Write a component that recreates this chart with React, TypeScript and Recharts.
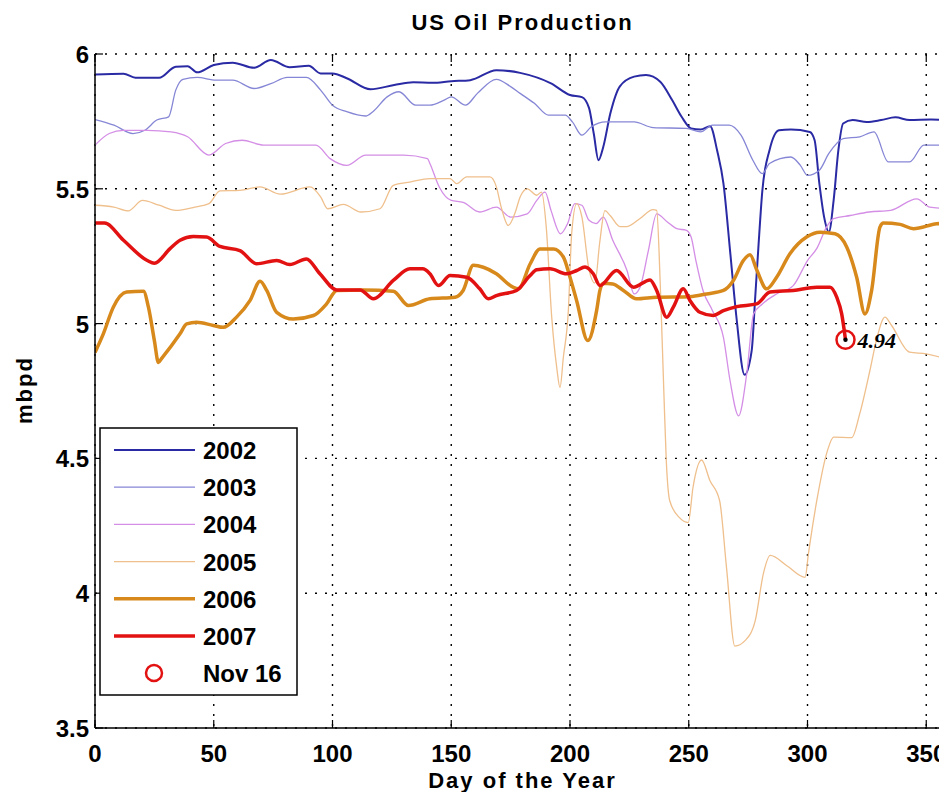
import React from 'react';
import { ComposedChart, Line, XAxis, YAxis, CartesianGrid, ReferenceDot } from 'recharts';

// days and mbpd values, one pair of arrays per year
const days2002 = [0, 12, 17, 27, 34, 39, 43, 50, 58, 67, 74, 82, 90, 95, 100, 106, 116, 126, 134, 142, 150, 158, 169, 179, 192, 200, 205, 208, 210, 212, 214, 217, 221, 227, 232, 238, 243, 247, 251, 255, 259, 262, 264.6, 267.4, 270, 273.5, 276.5, 278, 279.3, 281, 284, 288, 293, 301, 303, 305, 307, 309, 311, 313, 315, 319, 325, 331, 337, 343, 352, 360];
const vals2002 = [5.924, 5.927, 5.912, 5.912, 5.953, 5.955, 5.932, 5.959, 5.968, 5.949, 5.978, 5.951, 5.956, 5.928, 5.928, 5.91, 5.869, 5.885, 5.895, 5.893, 5.899, 5.903, 5.94, 5.93, 5.891, 5.848, 5.84, 5.8, 5.705, 5.606, 5.655, 5.78, 5.88, 5.916, 5.922, 5.897, 5.829, 5.767, 5.724, 5.72, 5.732, 5.64, 5.52, 5.27, 5.03, 4.81, 4.9, 5.1, 5.28, 5.494, 5.643, 5.717, 5.72, 5.711, 5.68, 5.519, 5.395, 5.34, 5.457, 5.643, 5.742, 5.755, 5.748, 5.755, 5.765, 5.755, 5.757, 5.752];

const days2003 = [0, 8, 16, 21, 26, 31, 34, 37, 43, 51, 58, 67, 74, 81, 89, 95, 100, 106, 114, 117, 123, 128, 135, 141, 147, 150, 156, 161, 169, 175, 179, 185, 191, 198, 201, 205, 209, 215, 227, 235, 249, 255, 260, 267, 272, 277, 281, 284, 293, 297, 300, 305, 309, 315, 322, 328, 334, 343, 349, 360];
const vals2003 = [5.757, 5.736, 5.705, 5.717, 5.755, 5.767, 5.866, 5.906, 5.913, 5.903, 5.903, 5.872, 5.89, 5.913, 5.913, 5.866, 5.81, 5.786, 5.77, 5.786, 5.841, 5.86, 5.81, 5.81, 5.829, 5.841, 5.81, 5.854, 5.906, 5.879, 5.854, 5.817, 5.773, 5.773, 5.748, 5.699, 5.73, 5.748, 5.748, 5.727, 5.724, 5.711, 5.736, 5.736, 5.699, 5.606, 5.556, 5.594, 5.618, 5.587, 5.55, 5.569, 5.631, 5.686, 5.693, 5.711, 5.6, 5.6, 5.662, 5.662];

const days2004 = [0, 6, 12, 22, 32, 39, 48, 55, 62, 71, 81, 93, 99, 106, 114, 130, 140, 141, 145, 150, 155, 162, 169, 175, 182, 186, 189.5, 192, 196, 199, 202, 205, 208, 211, 214, 218, 224, 227, 229.5, 233, 236.5, 241, 245, 249, 251, 253, 256, 260, 264.6, 267.4, 271, 274.4, 277.3, 281, 287, 294, 300, 304, 308, 311, 318, 326, 335, 346, 351.5, 360];
const vals2004 = [5.662, 5.705, 5.717, 5.717, 5.711, 5.693, 5.625, 5.668, 5.68, 5.662, 5.662, 5.662, 5.612, 5.587, 5.625, 5.625, 5.612, 5.594, 5.506, 5.457, 5.45, 5.414, 5.432, 5.395, 5.407, 5.457, 5.488, 5.42, 5.333, 5.371, 5.445, 5.439, 5.383, 5.371, 5.395, 5.309, 5.197, 5.11, 5.135, 5.271, 5.407, 5.377, 5.352, 5.346, 5.321, 5.234, 5.123, 5.048, 4.949, 4.788, 4.658, 4.813, 5.036, 5.073, 5.11, 5.141, 5.234, 5.28, 5.358, 5.389, 5.401, 5.414, 5.42, 5.463, 5.432, 5.426];

const days2005 = [0, 8, 14, 20, 27, 34, 42, 48, 52.6, 61, 69.5, 78, 90.5, 95, 98, 104.6, 112, 120, 125.6, 132.6, 141, 149.5, 152.3, 156.5, 166.3, 169, 171, 174, 177, 179, 182, 186, 188, 190, 192.3, 194.4, 195.8, 197.2, 199.3, 200.7, 202.8, 205, 208, 210.5, 212.5, 214.7, 217, 221, 224, 229.5, 235, 236.5, 238, 239.5, 240.5, 242, 246, 249.8, 251.8, 255.4, 258.9, 263, 265.9, 269.4, 273.7, 278, 281.4, 284.3, 291.3, 299, 300.4, 303.9, 308.4, 311, 318.6, 322, 326.3, 329, 332.6, 335.4, 343, 350, 360];
const vals2005 = [5.439, 5.432, 5.418, 5.457, 5.439, 5.42, 5.432, 5.445, 5.492, 5.494, 5.507, 5.48, 5.507, 5.47, 5.426, 5.442, 5.414, 5.426, 5.513, 5.525, 5.538, 5.538, 5.519, 5.544, 5.544, 5.507, 5.433, 5.364, 5.414, 5.47, 5.5, 5.476, 5.488, 5.358, 5.024, 4.838, 4.763, 4.875, 5.048, 5.333, 5.445, 5.396, 5.2, 5.15, 5.3, 5.419, 5.4, 5.36, 5.36, 5.39, 5.423, 5.42, 5.147, 4.75, 4.5, 4.343, 4.281, 4.262, 4.393, 4.494, 4.418, 4.343, 4.095, 3.804, 3.824, 3.898, 4.072, 4.14, 4.102, 4.059, 4.147, 4.343, 4.529, 4.579, 4.577, 4.666, 4.827, 4.938, 5.024, 4.993, 4.894, 4.888, 4.864];

const days2006 = [0, 3.5, 7.7, 13.3, 20.4, 22.5, 25, 26.7, 28, 35.8, 38.6, 42.8, 49.8, 54, 59.6, 65.3, 69.5, 72.3, 76.5, 83.5, 92, 97.5, 101.8, 113, 125.6, 132, 141, 151.6, 155, 159.3, 163.5, 169, 176, 178.3, 183.2, 187.4, 193, 197.2, 200, 202.8, 207.5, 211.2, 212.6, 214, 218, 222.5, 228, 236.5, 250.5, 257.5, 264.6, 268.8, 273, 275.8, 278.6, 282.8, 287, 292.6, 299.6, 305.3, 311.6, 316.5, 320.7, 324.2, 327, 330.5, 332, 339, 344.6, 354.4, 360];
const vals2006 = [4.893, 4.962, 5.061, 5.117, 5.12, 5.061, 4.937, 4.856, 4.87, 4.962, 4.999, 5.005, 4.993, 4.986, 5.024, 5.086, 5.157, 5.123, 5.042, 5.017, 5.03, 5.073, 5.123, 5.125, 5.12, 5.067, 5.092, 5.098, 5.123, 5.216, 5.209, 5.185, 5.135, 5.129, 5.221, 5.277, 5.277, 5.247, 5.172, 5.085, 4.937, 5.048, 5.123, 5.15, 5.147, 5.123, 5.092, 5.098, 5.1, 5.11, 5.123, 5.16, 5.234, 5.255, 5.2, 5.129, 5.172, 5.259, 5.321, 5.339, 5.333, 5.284, 5.172, 5.036, 5.123, 5.358, 5.373, 5.368, 5.352, 5.37, 5.373];

const days2007 = [0, 4, 12, 22, 25, 31.6, 35.8, 41.4, 47, 52.6, 61, 68, 76.5, 82, 89, 94.7, 101.8, 111.6, 117.2, 125.6, 132.6, 138, 141, 144.6, 149.5, 156.5, 162, 165.6, 169, 177.5, 183.2, 186, 191.6, 198.6, 202.8, 206.3, 209.8, 212.6, 219.6, 226.7, 233.7, 236.5, 240.7, 243.5, 247.7, 250.5, 254.7, 260.3, 264.6, 270.2, 278.6, 284.2, 294, 303.9, 309.5, 312.3, 314.4, 316];
const vals2007 = [5.373, 5.373, 5.309, 5.234, 5.224, 5.278, 5.309, 5.323, 5.321, 5.286, 5.271, 5.222, 5.234, 5.219, 5.24, 5.185, 5.125, 5.125, 5.092, 5.16, 5.203, 5.203, 5.185, 5.141, 5.178, 5.172, 5.129, 5.092, 5.104, 5.123, 5.178, 5.2, 5.203, 5.185, 5.197, 5.21, 5.185, 5.141, 5.197, 5.135, 5.162, 5.123, 5.024, 5.061, 5.129, 5.086, 5.042, 5.03, 5.048, 5.063, 5.073, 5.117, 5.123, 5.135, 5.135, 5.098, 5.036, 4.94];

const lastDay = 316;
const lastValue = 4.94;
const lastLabel = '4.94';

const xTicks = [0, 50, 100, 150, 200, 250, 300, 350];
const yTicks = [3.5, 4, 4.5, 5, 5.5, 6];

const FONT = "'Liberation Sans', Arial, sans-serif";

const zip = (days: number[], vals: number[]) => days.map((d, i) => ({ day: d, mbpd: vals[i] }));

const series = [
  { name: '2002', data: zip(days2002, vals2002), color: '#2a2aa4', width: 2 },
  { name: '2003', data: zip(days2003, vals2003), color: '#8686d6', width: 1.3 },
  { name: '2004', data: zip(days2004, vals2004), color: '#d48ee6', width: 1.3 },
  { name: '2005', data: zip(days2005, vals2005), color: '#efbf8c', width: 1.3 },
  { name: '2006', data: zip(days2006, vals2006), color: '#d8891c', width: 3.5 },
  { name: '2007', data: zip(days2007, vals2007), color: '#e31212', width: 3.5 },
];

const XTick = (props: any) => {
  const { x, y, payload } = props;
  return (
    <g>
      <line x1={x} y1={y} x2={x} y2={y - 8} stroke="#000" strokeWidth={1.2} />
      <line x1={x} y1={54} x2={x} y2={62} stroke="#000" strokeWidth={1.2} />
      <text x={x} y={y + 34} textAnchor="middle" fontFamily={FONT} fontWeight="bold" fontSize={24} fill="#000">
        {payload.value}
      </text>
    </g>
  );
};

const YTick = (props: any) => {
  const { x, y, payload } = props;
  return (
    <g>
      <line x1={x} y1={y} x2={x + 8} y2={y} stroke="#000" strokeWidth={1.2} />
      <text x={x - 6} y={y + 9} textAnchor="end" fontFamily={FONT} fontWeight="bold" fontSize={24} fill="#000">
        {payload.value}
      </text>
    </g>
  );
};

const LastPoint = (props: any) => {
  const { cx, cy } = props;
  return (
    <g>
      <circle cx={cx} cy={cy} r={9} fill="none" stroke="#e31212" strokeWidth={2.5} />
      <circle cx={cx} cy={cy} r={2.2} fill="#000" />
      <text x={cx + 12} y={cy + 8} fontFamily="'Liberation Serif', serif" fontWeight="bold" fontStyle="italic" fontSize={22} fill="#000">
        {lastLabel}
      </text>
    </g>
  );
};

const LegendBox = () => (
  <svg width={200} height={270} style={{ position: 'absolute', left: 99, top: 427 }}>
    <rect x={1} y={1} width={197} height={267} fill="#fff" stroke="#000" strokeWidth={1.5} />
    {series.map((s, i) => (
      <g key={s.name}>
        <line x1={15} x2={96} y1={23 + i * 37.2} y2={23 + i * 37.2} stroke={s.color} strokeWidth={s.width} />
        <text x={104} y={32 + i * 37.2} fontFamily={FONT} fontWeight="bold" fontSize={24} fill="#000">{s.name}</text>
      </g>
    ))}
    <circle cx={55} cy={246} r={8} fill="none" stroke="#e31212" strokeWidth={2.5} />
    <text x={104} y={255} fontFamily={FONT} fontWeight="bold" fontSize={24} fill="#000">Nov 16</text>
  </svg>
);

const labelStyle: React.CSSProperties = { position: 'absolute', fontFamily: FONT, fontWeight: 'bold', fontSize: 22, letterSpacing: 2, lineHeight: '26px', whiteSpace: 'nowrap' };

export default function App() {
  return (
    <div style={{ position: 'relative', width: 947, height: 800, overflow: 'hidden', margin: -8, background: '#fff' }}>
      <div style={{ ...labelStyle, left: 95, width: 855, top: 10, textAlign: 'center' }}>
        US Oil Production
      </div>
      <ComposedChart width={960} height={800} margin={{ top: 54, right: 10, left: 0, bottom: 0 }}>
        <CartesianGrid stroke="#000" strokeDasharray="2 8" strokeWidth={1.4} horizontalValues={yTicks} verticalValues={xTicks} />
        <XAxis
          type="number"
          dataKey="day"
          domain={[0, 360]}
          ticks={xTicks}
          height={72}
          tickSize={0}
          tickMargin={0}
          tick={<XTick />}
          axisLine={{ stroke: '#000', strokeWidth: 1.5 }}
          allowDataOverflow
        />
        <XAxis xAxisId="top" orientation="top" type="number" domain={[0, 360]} ticks={[]} height={0} tick={false} tickLine={false} axisLine={{ stroke: '#000', strokeWidth: 1.5 }} />
        <YAxis
          type="number"
          domain={[3.5, 6]}
          ticks={yTicks}
          width={95}
          tickSize={0}
          tickMargin={0}
          tick={<YTick />}
          axisLine={{ stroke: '#000', strokeWidth: 1.5 }}
          allowDataOverflow
        />
        {series.map(s => (
          <Line
            key={s.name}
            data={s.data}
            dataKey="mbpd"
            type="monotone"
            stroke={s.color}
            strokeWidth={s.width}
            dot={false}
            activeDot={false}
            isAnimationActive={false}
          />
        ))}
        <ReferenceDot x={lastDay} y={lastValue} r={9} shape={<LastPoint />} />
      </ComposedChart>
      <div style={{ ...labelStyle, left: -20, width: 90, top: 377, textAlign: 'center', transform: 'rotate(-90deg)' }}>
        mbpd
      </div>
      <div style={{ ...labelStyle, left: 95, width: 855, top: 768, textAlign: 'center' }}>
        Day of the Year
      </div>
      <LegendBox />
    </div>
  );
}
